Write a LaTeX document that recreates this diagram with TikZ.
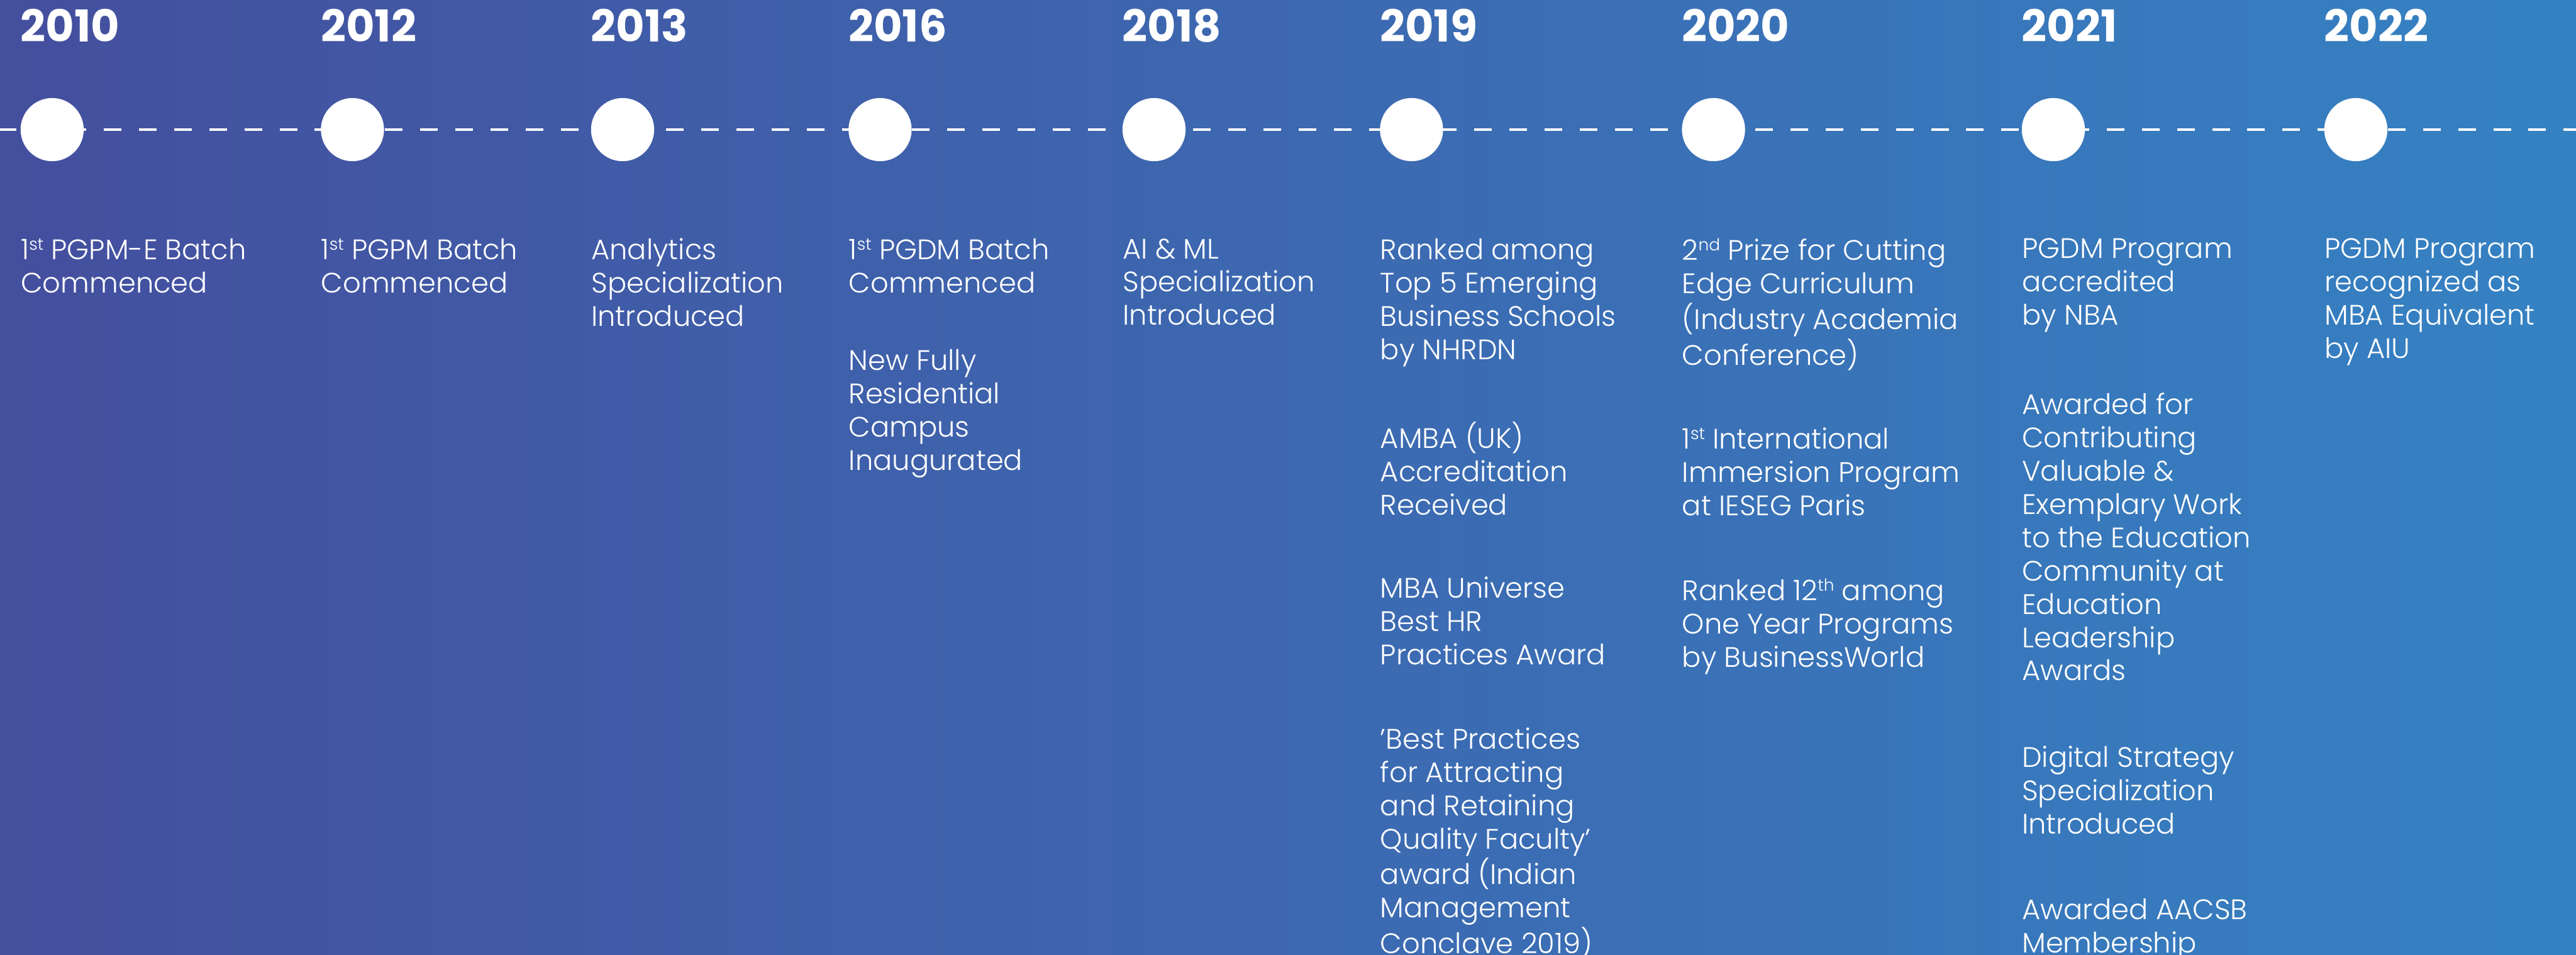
\documentclass[tikz,border=0pt]{standalone}
\usepackage{fontspec}
\usepackage{xcolor}
\usetikzlibrary{positioning}

\IfFontExistsTF{Poppins Light}{\setmainfont{Poppins Light}}{\setmainfont{Poppins}}
\newfontfamily\yearfont{Poppins}

\definecolor{bgleft}{RGB}{68,79,158}
\definecolor{bgright}{RGB}{53,130,195}

% small raised ordinal suffix
\newcommand\ordsup[1]{\raisebox{0.62ex}{\fontsize{8.6}{9}\selectfont #1}}

\tikzset{
  dot/.style={circle, fill=white, minimum size=1.15cm, inner sep=0pt},
  year/.style={anchor=base west, inner sep=0pt, text=white,
    font=\yearfont\bfseries\fontsize{22.8}{25}\selectfont},
  event/.style={anchor=north west, inner sep=0pt, align=left, text=white,
    font=\fontsize{14.6}{17.25}\selectfont,
    execute at begin node=\strut, execute at end node=\strut},
  firstitem/.style={below right=1.395cm and -0.575cm of #1.south}
}

\begin{document}
\begin{tikzpicture}
  % background band
  \useasboundingbox (0,0) rectangle (46.92,-17.38);
  \shade[left color=bgleft, right color=bgright] (0,0) rectangle (46.92,-17.38);

  % the time line
  \coordinate (lineL) at (0,-2.36);
  \coordinate (lineR) at (46.92,-2.36);
  \draw[white, line width=0.053cm, dash pattern=on 0.32cm off 0.32cm, dash phase=0.027cm] (lineL) -- (lineR);

  % dots and years
  \foreach \yr/\x in {2010/0.95, 2012/6.42, 2013/11.34, 2016/16.03, 2018/21.02,
                      2019/25.71, 2020/31.21, 2021/37.40, 2022/42.91} {
    \node[dot] (d\yr) at (\x,-2.36) {};
    \node[year] (y\yr) at ([yshift=1.595cm]d\yr.west) {\yr};
  }

  % milestones
  \node[event, firstitem=d2010] (e2010) {1\ordsup{st} PGPM-E Batch\\Commenced};
  \node[event, firstitem=d2012] (e2012) {1\ordsup{st} PGPM Batch\\Commenced};
  \node[event, firstitem=d2013] (e2013) {Analytics\\Specialization\\Introduced};

  \node[event, firstitem=d2016] (e2016a) {1\ordsup{st} PGDM Batch\\Commenced};
  \node[event, below right=0.84cm and 0cm of e2016a.south west] (e2016b) {New Fully\\Residential\\Campus\\Inaugurated};

  \node[event, firstitem=d2018] (e2018) {AI \& ML\\Specialization\\Introduced};

  \node[event, firstitem=d2019] (e2019a) {Ranked among\\Top 5 Emerging\\Business Schools\\by NHRDN};
  \node[event, below right=0.94cm and 0cm of e2019a.south west] (e2019b) {AMBA (UK)\\Accreditation\\Received};
  \node[event, below right=0.94cm and 0cm of e2019b.south west] (e2019c) {MBA Universe\\Best HR\\Practices Award};
  \node[event, below right=0.95cm and 0cm of e2019c.south west] (e2019d) {'Best Practices\\for Attracting\\and Retaining\\Quality Faculty'\\award (Indian\\Management\\Conclave 2019)};

  \node[event, firstitem=d2020] (e2020a) {2\ordsup{nd} Prize for Cutting\\Edge Curriculum\\(Industry Academia\\Conference)};
  \node[event, below right=0.95cm and 0cm of e2020a.south west] (e2020b) {1\ordsup{st} International\\Immersion Program\\at IESEG Paris};
  \node[event, below right=0.95cm and 0cm of e2020b.south west] (e2020c) {Ranked 12\ordsup{th} among\\One Year Programs\\by BusinessWorld};

  \node[event, firstitem=d2021] (e2021a) {PGDM Program\\accredited\\by NBA};
  \node[event, below right=1.04cm and 0cm of e2021a.south west] (e2021b) {Awarded for\\Contributing\\Valuable \&\\Exemplary Work\\to the Education\\Community at\\Education\\Leadership\\Awards};
  \node[event, below right=0.99cm and 0cm of e2021b.south west] (e2021c) {Digital Strategy\\Specialization\\Introduced};
  \node[event, below right=0.99cm and 0cm of e2021c.south west] (e2021d) {Awarded AACSB\\Membership};

  \node[event, firstitem=d2022] (e2022) {PGDM Program\\recognized as\\MBA Equivalent\\by AIU};
\end{tikzpicture}
\end{document}
